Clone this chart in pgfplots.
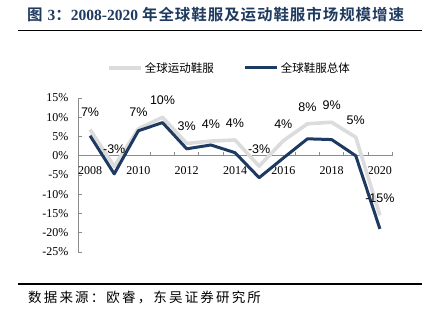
\documentclass[border=0pt]{standalone}
\usepackage{fontspec}
\setmainfont{Liberation Serif}
\newfontfamily\sansf{Liberation Sans}
\newfontfamily\cjk{Noto Sans CJK SC}
\newfontfamily\cjksp{Noto Sans CJK SC}[LetterSpace=16]
\newfontfamily\cjkb{Noto Sans CJK SC}[UprightFont=* Bold, LetterSpace=6]
\usepackage{pgfplots}
\usepackage{pgfplotstable}
\pgfplotsset{compat=1.18}
\definecolor{navy}{HTML}{1D3A62}
\definecolor{lgray}{HTML}{DCDCDC}
\definecolor{titleblue}{HTML}{1F3A5F}
\definecolor{axgray}{HTML}{8C8C8C}

\pgfplotstableread{
year sport lab total
2008 6.8 7\% 5.2
2009 -2.8 -3\% -4.7
2010 7.0 7\% 6.5
2011 10.0 10\% 8.6
2012 3.2 3\% 1.8
2013 3.8 4\% 2.8
2014 4.1 4\% 0.8
2015 -2.7 -3\% -5.7
2016 3.9 4\% -0.6
2017 8.3 8\% 4.4
2018 8.7 9\% 4.2
2019 4.8 5\% 0.0
2020 -15.5 -15\% -19.0
}\growth

\begin{document}
\begin{tikzpicture}[x=1pt,y=1pt]
\path (0,0) rectangle (433,321);
% title
\node[anchor=west,text=titleblue,inner sep=0pt] at (27,306)
  {\fontsize{15.5}{17}\selectfont\cjkb 图\hspace{5pt}{\rmfamily\bfseries 3}：{\rmfamily\bfseries 2008-2020}\hspace{4pt}年全球鞋服及运动鞋服市场规模增速};
\draw[line width=1.6pt] (18,290.5) -- (422,290.5);
% bottom rule and source
\draw[line width=1.2pt] (18,37) -- (422,37);
\node[anchor=west,inner sep=0pt] at (28,23)
  {\fontsize{13.5}{15}\selectfont\cjksp 数据来源：欧睿，东吴证券研究所};
\begin{axis}[
  at={(78pt,69pt)}, anchor=south west,
  scale only axis, width=314pt, height=154pt,
  xmin=2007.5, xmax=2020.5, ymin=-25, ymax=15,
  axis y line=left, axis x line=middle,
  axis line style={-, draw=axgray, line width=0.6pt},
  tick style={draw=axgray, line width=0.6pt},
  tick align=inside, major tick length=4pt,
  ytick={-25,-20,...,15},
  yticklabel={\pgfmathprintnumber{\tick}\%},
  yticklabel style={font=\fontsize{12}{14}\selectfont, xshift=-6pt},
  xtick={2007.5,2008.5,...,2020.5},
  xticklabels={},
  extra x ticks={2008,2010,...,2020},
  extra x tick style={major tick length=0pt, xticklabel style={font=\fontsize{12}{14}\selectfont, yshift=-7pt}},
  /pgf/number format/1000 sep={},
  /pgf/number format/assume math mode=true,
  clip=false,
  legend columns=2,
  legend style={at={(107pt-78pt,321pt-68pt-69pt)}, anchor=west, draw=none, fill=none,
    font=\cjk\fontsize{11.5}{13}\selectfont, inner sep=0pt,
    /tikz/every even column/.append style={column sep=28pt}},
  legend image code/.code={\draw[#1] (0pt,0pt) -- (32pt,0pt);},
]
\addplot[lgray, line width=3.6pt, line join=round,
  nodes near coords, point meta=explicit symbolic,
  every node near coord/.append style={anchor=center, yshift=17pt, text=black, font=\sansf\fontsize{12.5}{14}\selectfont}]
  table[x=year, y=sport, meta=lab] {\growth};
\addlegendentry{全球运动鞋服}
\addplot[navy, line width=3pt, line join=round] table[x=year, y=total] {\growth};
\addlegendentry{全球鞋服总体}
\end{axis}
\end{tikzpicture}
\end{document}
